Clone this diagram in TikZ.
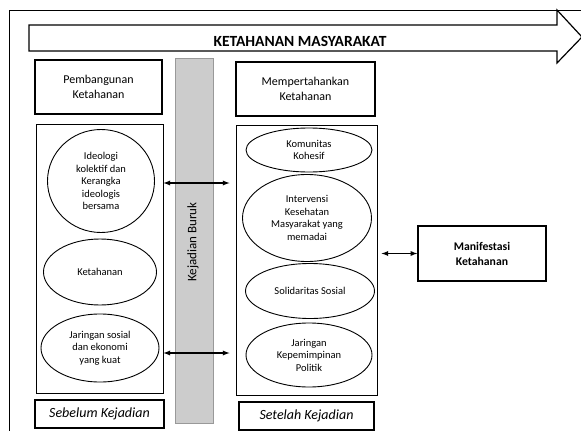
\documentclass[tikz,border=0pt]{standalone}
\usepackage{fontspec}
\setmainfont{Carlito}
\usetikzlibrary{shapes.geometric}

\tikzset{
   kotak/.style={draw, line width=1pt, inner sep=0pt, align=center},
   tebal/.style={draw, line width=1.6pt, inner sep=0pt, align=center},
   oval/.style={draw, ellipse, line width=0.9pt, inner sep=0pt, align=center,
      font=\fontsize{10.5}{12.5}\selectfont},
   panah/.style={<->, >=latex, line width=1.3pt}
}

\begin{document}
\begin{tikzpicture}[x=1pt, y=-1pt]%
   \useasboundingbox (0,0) rectangle (581,431);
   \clip (0,0) rectangle (581,431);
   \draw[line width=1pt] (9,10) rectangle (600,450);
   \draw[line width=1.2pt, fill=white] (29,25) -- (557,25) -- (557,10) -- (582,37)
      -- (557,63) -- (557,51) -- (29,51) -- cycle;
   \node (judul) at (300,41) {\fontsize{15.5}{17}\selectfont\bfseries KETAHANAN MASYARAKAT};
   \node[kotak, line width=1.3pt, minimum width=127, minimum height=54,
      font=\fontsize{12}{14.3}\selectfont] (pemb) at (98.5,87) {Pembangunan\\Ketahanan};
   \node[kotak, line width=1.3pt, minimum width=139, minimum height=54,
      font=\fontsize{12}{14.3}\selectfont] (mempert) at (305.5,89) {Mempertahankan\\Ketahanan};
   \node[draw=gray!80, fill=gray!40, minimum width=38, minimum height=365,
      inner sep=0pt] (bar) at (194,240.5) {};
   \node[rotate=90, font=\fontsize{13}{15}\selectfont] (buruk) at (193,242) {Kejadian Buruk};
   \node[kotak, minimum width=127, minimum height=269] (kiri) at (99.5,258.5) {};
   \node[kotak, minimum width=141, minimum height=270] (kanan) at (306.5,260) {};
   \node[oval, minimum width=107, minimum height=103] (ideo) at (101,181)
      {Ideologi\\kolektif dan\\Kerangka\\ideologis\\bersama};
   \node[oval, minimum width=113, minimum height=66] (ketah) at (100,272) {Ketahanan};
   \node[oval, minimum width=118, minimum height=68] (jaringan) at (100,348)
      {Jaringan sosial\\dan ekonomi\\yang kuat};
   \node[oval, minimum width=126, minimum height=44] (komunitas) at (309,150)
      {Komunitas\\Kohesif};
   \node[oval, minimum width=129, minimum height=87] (intervensi) at (307,218)
      {Intervensi\\Kesehatan\\Masyarakat yang\\memadai};
   \node[oval, minimum width=129, minimum height=55] (solid) at (310,291)
      {Solidaritas Sosial};
   \node[oval, minimum width=126, minimum height=64] (politik) at (309,355)
      {Jaringan\\Kepemimpinan\\Politik};
   \node[kotak, line width=1.4pt, minimum width=128, minimum height=55,
      font=\fontsize{11.7}{15}\selectfont\bfseries] (manif) at (482,253.5)
      {Manifestasi\\Ketahanan};
   \node[tebal, minimum width=129, minimum height=28,
      font=\fontsize{14}{15}\selectfont\itshape] (sebelum) at (99.5,414) {Sebelum Kejadian};
   \node[tebal, minimum width=135, minimum height=28,
      font=\fontsize{14}{15}\selectfont\itshape] (setelah) at (306.5,416) {Setelah Kejadian};
   \draw[panah] (kiri.east |- 0,183) -- ([xshift=-6pt]kanan.west |- 0,183);
   \draw[panah] (kiri.east |- 0,353) -- ([xshift=-6pt]kanan.west |- 0,353);
   \draw[panah] ([xshift=4pt]kanan.east |- manif) -- (manif.west);
\end{tikzpicture}
\end{document}
